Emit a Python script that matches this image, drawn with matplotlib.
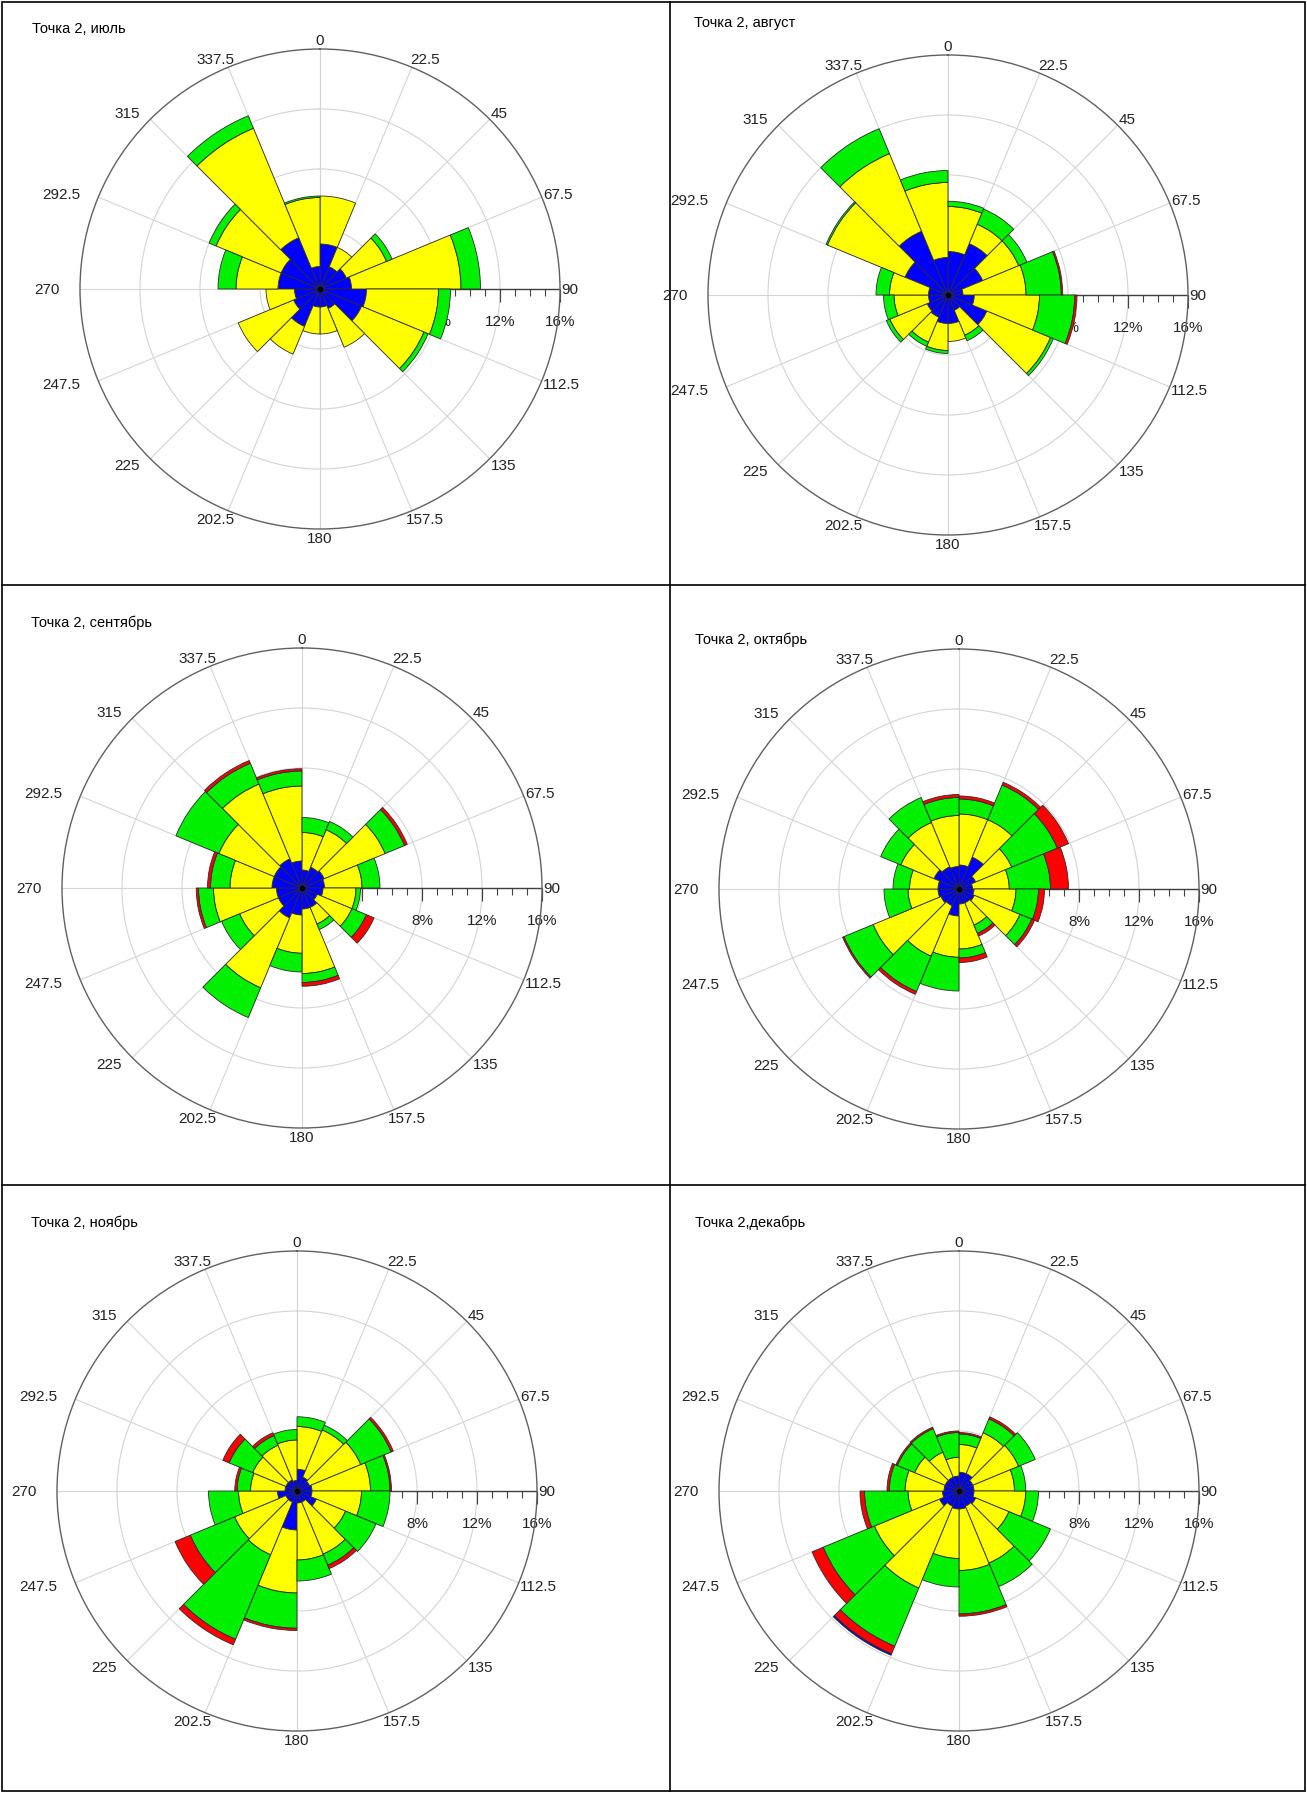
import numpy as np
import matplotlib
matplotlib.use('Agg')
import matplotlib.pyplot as plt
from matplotlib.lines import Line2D
from matplotlib.patches import Rectangle

plt.rcParams['font.family'] = ['Liberation Sans', 'DejaVu Sans']

W, H = 1307, 1793

directions = [0, 22.5, 45, 67.5, 90, 112.5, 135, 157.5,
              180, 202.5, 225, 247.5, 270, 292.5, 315, 337.5]
dir_labels = ['0', '22.5', '45', '67.5', '90', '112.5', '135', '157.5',
              '180', '202.5', '225', '247.5', '270', '292.5', '315', '337.5']
r_ticks = [4, 8, 12, 16]
r_tick_labels = ['4%', '8%', '12%', '16%']

# repeatability of wind by speed class, % (classes 1..5, low to high)
jul_c1 = [3.0, 1.6, 1.9, 2.1, 3.1, 3.0, 1.4, 1.2, 1.2, 2.7, 1.9, 1.7, 2.8, 2.8, 3.7, 1.5]
jul_c2 = [3.2, 1.4, 2.9, 7.3, 4.8, 4.5, 2.8, 1.8, 1.8, 2.0, 4.0, 1.9, 2.8, 4.7, 7.9, 4.6]
jul_c3 = [0, 0, 0.4, 1.3, 0.8, 0.3, 0, 0, 0, 0, 0, 0, 1.2, 0.5, 0.9, 0.1]
jul_c4 = [0] * 16

aug_c1 = [2.9, 3.7, 2.5, 1.0, 1.75, 2.8, 1.1, 1.9, 1.9, 1.6, 1.5, 1.3, 1.3, 3.1, 4.6, 2.5]
aug_c2 = [3.0, 1.4, 2.6, 4.2, 4.35, 4.6, 1.8, 1.2, 1.8, 1.8, 2.7, 2.3, 2.6, 5.6, 5.6, 5.0]
aug_c3 = [0.35, 1.1, 0.6, 2.35, 2.35, 0.2, 0.4, 0, 0.2, 0.3, 0.25, 0.7, 0.9, 0.1, 1.8, 0.8]
aug_c4 = [0, 0, 0, 0.1, 0.15, 0, 0, 0, 0, 0, 0, 0, 0, 0, 0, 0]

sep_c1 = [1.2, 1.5, 1.6, 1.5, 1.4, 1.1, 1.4, 1.4, 1.8, 2.15, 1.7, 1.7, 2.0, 2.0, 2.1, 1.8]
sep_c2 = [2.5, 2.7, 4.4, 2.5, 2.2, 2.5, 1.2, 4.3, 2.55, 5.05, 2.8, 4.2, 2.8, 4.0, 5.4, 5.0]
sep_c3 = [1.0, 0.6, 1.4, 1.2, 0.3, 1.05, 0.4, 0.6, 1.25, 2.15, 1.3, 1.0, 1.3, 3.1, 1.5, 1.0]
sep_c4 = [0, 0, 0.2, 0, 0, 0.55, 0, 0.25, 0, 0, 0, 0.15, 0.2, 0, 0.2, 0.15]

oct_c1 = [1.6, 2.3, 1.2, 0.9, 1.0, 1.1, 1.0, 1.0, 1.8, 1.2, 1.3, 1.4, 1.4, 1.8, 1.6, 1.5]
oct_c2 = [3.4, 2.7, 2.6, 2.45, 2.8, 3.3, 1.6, 3.0, 2.75, 3.65, 4.9, 2.0, 1.9, 2.4, 3.2, 3.4]
oct_c3 = [1.0, 2.5, 3.3, 2.75, 1.5, 0.85, 0.6, 0.6, 2.25, 2.55, 2.1, 1.6, 1.1, 1.45, 1.8, 1.2]
oct_c4 = [0.2, 0.2, 0.8, 1.2, 0.4, 0.2, 0.2, 0.3, 0, 0.2, 0.1, 0, 0, 0, 0, 0.2]

nov_c1 = [1.45, 1.0, 0.9, 1.0, 1.0, 1.4, 0.8, 0.8, 2.6, 0.8, 0.8, 1.3, 0.8, 0.8, 0.8, 0.7]
nov_c2 = [2.85, 3.4, 3.7, 3.9, 3.3, 2.1, 3.75, 3.8, 4.2, 3.8, 3.7, 2.6, 2.3, 2.4, 2.5, 2.7]
nov_c3 = [0.65, 0.35, 2.2, 1.3, 1.9, 2.2, 0.8, 1.4, 2.35, 6.1, 3.2, 2.0, 0.9, 1.7, 0.7, 0.7]
nov_c4 = [0, 0, 0.15, 0.1, 0, 0, 0.25, 0, 0.15, 0.4, 1.1, 0, 0.15, 0.45, 0.2, 0]

dec_c1 = [1.25, 1.25, 1.0, 1.0, 1.0, 1.2, 1.1, 1.2, 1.2, 1.1, 1.4, 1.1, 1.0, 1.0, 1.0, 1.0]
dec_c2 = [1.85, 2.95, 3.3, 2.7, 3.45, 2.4, 4.1, 4.1, 3.3, 5.9, 4.7, 2.3, 2.6, 2.2, 1.8, 1.25]
dec_c3 = [0.7, 1.0, 1.2, 0.75, 0.85, 3.0, 1.7, 2.9, 1.9, 4.2, 3.7, 2.9, 1.05, 1.25, 1.7, 1.65]
dec_c4 = [0.1, 0.15, 0, 0, 0, 0, 0, 0.15, 0, 0.55, 0.8, 0.3, 0.15, 0.1, 0.1, 0.1]
dec_c5 = [0, 0, 0, 0, 0, 0, 0, 0, 0, 0.1, 0, 0, 0, 0, 0, 0]

zeros = [0] * 16
class_colors = ['#0000ff', '#ffff00', '#00f000', '#ff0000', '#0000ff']

panels = [
    ('Точка 2, июль', [jul_c1, jul_c2, jul_c3, jul_c4, zeros], (320, 289), (32, 29)),
    ('Точка 2, август', [aug_c1, aug_c2, aug_c3, aug_c4, zeros], (948, 295), (694, 23)),
    ('Точка 2, сентябрь', [sep_c1, sep_c2, sep_c3, sep_c4, zeros], (302, 888), (31, 623)),
    ('Точка 2, октябрь', [oct_c1, oct_c2, oct_c3, oct_c4, zeros], (959, 889), (695, 640)),
    ('Точка 2, ноябрь', [nov_c1, nov_c2, nov_c3, nov_c4, zeros], (297, 1491), (31, 1223)),
    ('Точка 2,декабрь', [dec_c1, dec_c2, dec_c3, dec_c4, dec_c5], (959, 1491), (695, 1223)),
]

R = 240  # px radius of the 16% circle
fig = plt.figure(figsize=(W / 100, H / 100), dpi=100)

theta = np.deg2rad(directions)
width = np.deg2rad(22.5)

for title, classes, (cx, cy), (tx, ty) in panels:
    ax = fig.add_axes([(cx - R) / W, 1 - (cy + R) / H, 2 * R / W, 2 * R / H],
                      projection='polar')
    ax.set_theta_zero_location('N')
    ax.set_theta_direction(-1)
    ax.set_ylim(0, 16)
    ax.set_xticks(theta)
    ax.set_xticklabels([])
    ax.set_yticks([4, 8, 12])
    ax.set_yticklabels([])
    ax.tick_params(length=0)
    ax.grid(True, color='#d4d4d4', lw=0.8)
    ax.spines['polar'].set_color('#606060')
    ax.spines['polar'].set_linewidth(1.0)

    # radial axis along 90 deg
    ax.plot([np.pi / 2, np.pi / 2], [0, 16], color='#404040', lw=1.0, zorder=2.2)
    minor = np.arange(1, 17)
    ax.plot(np.full(len(minor), np.pi / 2), minor, ls='none', marker=3,
            ms=5, mew=0.8, color='#404040', zorder=2.2, clip_on=False)
    ax.plot(np.full(len(r_ticks), np.pi / 2), r_ticks, ls='none', marker=3,
            ms=9, mew=0.8, color='#404040', zorder=2.2, clip_on=False)
    for r, lab in zip(r_ticks, r_tick_labels):
        ax.annotate(lab, xy=(np.pi / 2, r), xytext=(0, -24), textcoords='offset points',
                    ha='center', va='center', fontsize=11, color='#222222',
                    zorder=2.1, annotation_clip=False)

    bottom = np.zeros(len(directions))
    for vals, col in zip(classes, class_colors):
        vals = np.asarray(vals, dtype=float)
        m = vals > 0
        if m.any():
            ax.bar(theta[m], vals[m], width=width, bottom=bottom[m], align='edge',
                   color=col, edgecolor='#2a2a2a', linewidth=0.6, zorder=3)
        bottom = bottom + vals
    ax.plot(0, 0, 'o', color='black', ms=3, zorder=4)

    # direction labels outside the circle
    for d, lab in zip(directions, dir_labels):
        s, c = np.sin(np.deg2rad(d)), np.cos(np.deg2rad(d))
        if s > 0.5:
            ha, dx = 'left', 1.0
        elif s < -0.5:
            ha, dx = 'right', -15 * s * s
        else:
            ha, dx = 'center', 24.7 * s
        dy = (8 * c - 1) * 0.823
        ax.annotate(lab, xy=(np.deg2rad(d), 16), xytext=(dx, dy),
                    textcoords='offset points', ha=ha, va='center', fontsize=11,
                    color='#222222', annotation_clip=False)

    fig.text(tx / W, 1 - ty / H, title, ha='left', va='center', fontsize=10.5)

# panel frame
fig.add_artist(Rectangle((2 / W, 2 / H), 1 - 4 / W, 1 - 4 / H, transform=fig.transFigure,
                         fill=False, edgecolor='black', lw=1.2))
fig.add_artist(Line2D([670 / W, 670 / W], [2 / H, 1 - 2 / H], transform=fig.transFigure,
                      color='black', lw=1.2))
for yy in (585, 1185):
    fig.add_artist(Line2D([2 / W, 1 - 2 / W], [1 - yy / H, 1 - yy / H],
                          transform=fig.transFigure, color='black', lw=1.2))

fig.savefig('out.png', dpi=100)
